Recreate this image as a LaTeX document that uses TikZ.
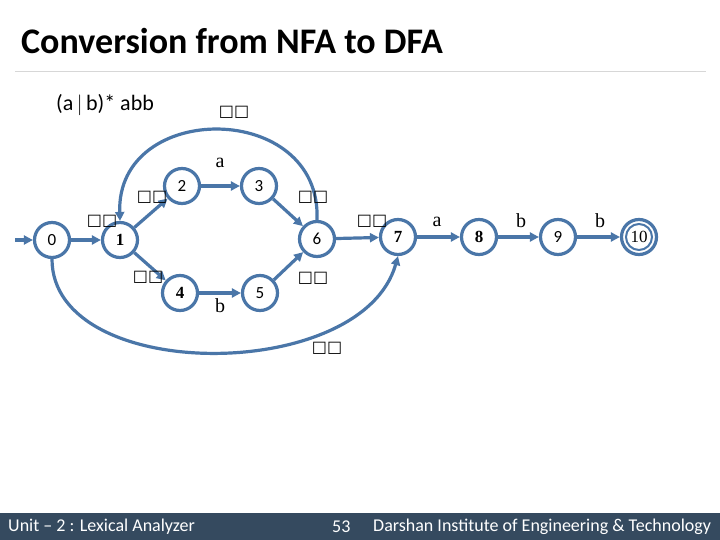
\documentclass[tikz,border=0pt]{standalone}
\usepackage{fontspec}
\setmainfont{Carlito}
\newfontfamily\symf{DejaVu Sans}
\newfontfamily\serf{Liberation Serif}
\usetikzlibrary{arrows.meta}
\definecolor{edgeblue}{RGB}{74,118,168}
\definecolor{footbar}{RGB}{53,74,95}
\definecolor{rulegray}{RGB}{215,215,215}
\begin{document}
\begin{tikzpicture}[x=1pt,y=-1pt,
  state/.style={circle,draw=edgeblue,line width=3.2pt,minimum size=35pt,inner sep=0pt,font=\fontsize{17}{17}\selectfont,text=black},
  edge/.style={draw=edgeblue,line width=3.2pt,-{Triangle[length=9pt,width=9pt]}},
  eps/.style={font=\symf\fontsize{16}{16}\selectfont,inner sep=0pt},
  sym/.style={font=\serf\fontsize{20}{20}\selectfont,inner sep=0pt}]
\useasboundingbox (0,0) rectangle (720,540);
\fill[white] (0,0) rectangle (720,540);
% title
\node[anchor=west,inner sep=0pt,font=\bfseries\fontsize{36}{36}\selectfont] (title) at (21,41) {Conversion from NFA to DFA};
\draw[rulegray,line width=1pt] (15,72) -- (706,72);
\node[anchor=west,inner sep=0pt,font=\fontsize{22}{22}\selectfont] (regex) at (56,105) {(a$\,|\,$b)* abb};
% states
\node[state] (s0) at (52,240) {0};
\node[state] (s1) at (120,240) {\serf\bfseries 1};
\node[state] (s2) at (182,186) {2};
\node[state] (s3) at (259,186) {3};
\node[state] (s4) at (180,293) {\serf\bfseries 4};
\node[state] (s5) at (260,293) {5};
\node[state] (s6) at (317,239) {6};
\node[state] (s7) at (398,237) {\serf\bfseries 7};
\node[state] (s8) at (479,237) {\serf\bfseries 8};
\node[state] (s9) at (558,237) {9};
\node[state] (s10) at (639,237) {\serf 10};
\draw[edgeblue,line width=2pt] (s10.center) circle (13pt);
\coordinate (start) at (15,240);
% edges
\draw[edge] (start) -- (s0);
\draw[edge] (s0) -- (s1);
\draw[edge] (s1) -- (s2);
\draw[edge] (s2) -- (s3);
\draw[edge] (s3) -- (s6);
\draw[edge] (s1) -- (s4);
\draw[edge] (s4) -- (s5);
\draw[edge] (s5) -- (s6);
\draw[edge] (s6) -- (s7);
\draw[edge] (s7) -- (s8);
\draw[edge] (s8) -- (s9);
\draw[edge] (s9) -- (s10);
\draw[edge] (s6.north) .. controls (322,100) and (116,100) .. (s1.north);
\draw[edge] (s0.south) .. controls (52,384) and (362,384) .. (s7.south);
% labels
\node[eps] (e1) at (234,112) {□□};
\node[sym] (la) at (220,163) {a};
\node[eps] (e2) at (152,197) {□□};
\node[eps] (e3) at (102,221) {□□};
\node[eps] (e4) at (148,277) {□□};
\node[sym] (lb) at (220,306) {b};
\node[eps] (e5) at (313,197) {□□};
\node[eps] (e6) at (313,278) {□□};
\node[eps] (e7) at (327,348) {□□};
\node[eps] (e8) at (372,221) {□□};
\node[sym] (la2) at (437,222) {a};
\node[sym] (lb2) at (521,221) {b};
\node[sym] (lb3) at (600,221) {b};
% footer
\fill[footbar] (0,513) rectangle (720,540);
\node[anchor=west,inner sep=0pt,text=white,font=\fontsize{18}{18}\selectfont] (f1) at (8,527) {Unit – 2 : Lexical Analyzer};
\node[anchor=west,inner sep=0pt,text=white,font=\fontsize{18}{18}\selectfont] (f2) at (332,527) {53};
\node[anchor=west,inner sep=0pt,text=white,font=\fontsize{18}{18}\selectfont] (f3) at (373,527) {Darshan Institute of Engineering \& Technology};
\end{tikzpicture}
\end{document}
